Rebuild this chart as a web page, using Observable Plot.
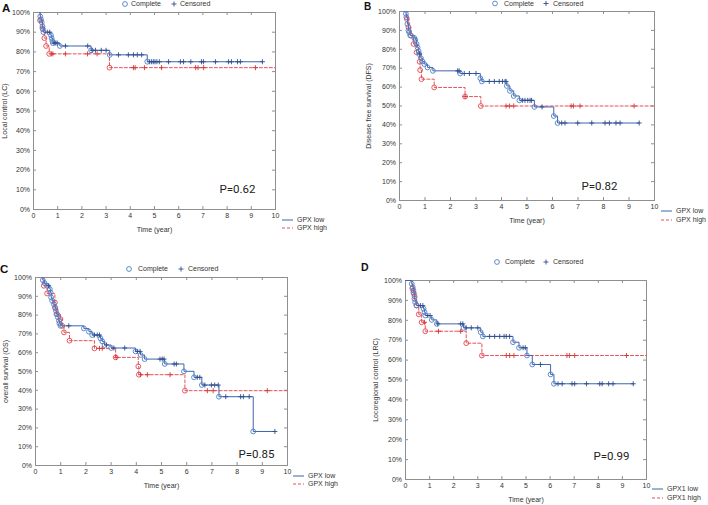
<!DOCTYPE html>
<html><head><meta charset="utf-8">
<script src="https://cdn.jsdelivr.net/npm/d3@7"></script>
<script src="https://cdn.jsdelivr.net/npm/@observablehq/plot@0.6"></script>
<style>
html,body{margin:0;padding:0;background:#fff}
#root{position:relative;width:708px;height:505px;overflow:hidden;background:#fff}
#root > svg{position:absolute}
</style></head><body><div id="root"></div>
<script>
// ---------- DATA ----------
const xTicks = [0,1,2,3,4,5,6,7,8,9,10];
const yTicks = [0,10,20,30,40,50,60,70,80,90,100];
const panelLetters = ["A","B","C","D"];
const yTitles = ["Local control (LC)","Disease free survival (DFS)","overall survival (OS)","Locoregional control (LRC)"];
const pValues = ["P=0.62","P=0.82","P=0.85","P=0.99"];
const groupNames = [["GPX low","GPX high"],["GPX low","GPX high"],["GPX low","GPX high"],["GPX1 low","GPX1 high"]];
const markerNames = ["Complete","Censored"];
const xTitle = "Time (year)";

// Panel A - LC
const lcLowStart = 0.25;
const lcLowEvents = [[0.28,98],[0.31,96.5],[0.34,95],[0.37,93],[0.39,91.5],[0.41,90],[0.72,88.5],[0.75,87],[0.78,85.5],[0.8,84.5],[1.09,83],[2.38,80.8],[3.15,78.5],[4.7,75]];
const lcLowCensored = [0.57,0.67,0.85,0.92,0.98,1.32,2.24,2.42,2.56,2.8,3.0,3.51,3.92,4.13,4.29,4.47,4.8,4.88,4.95,5.02,5.1,5.2,5.58,6.07,6.2,6.5,6.94,7.02,7.52,8.06,8.18,8.43,8.55,9.46];
const lcHighStart = 0.25;
const lcHighEvents = [[0.27,96],[0.37,92],[0.45,87],[0.52,83],[0.65,79],[3.14,72]];
const lcHighCensored = [0.75,0.8,1.32,2.23,2.63,4.13,4.2,4.59,5.29,6.7,6.8,7.03,9.17];

// Panel B - DFS
const dfsLowStart = 0.2;
const dfsLowEvents = [[0.25,98.8],[0.27,97],[0.31,93.4],[0.35,90],[0.38,89],[0.42,87.4],[0.58,86],[0.62,85],[0.67,82.8],[0.71,81],[0.75,79],[0.77,77.5],[0.84,75.3],[0.9,73.6],[0.97,72.2],[1.1,70.4],[1.31,68.6],[2.38,67.2],[3.17,64.7],[3.23,63],[4.21,60.6],[4.33,58],[4.48,55.3],[4.7,53],[5.29,49.5],[6.05,44.7],[6.2,41]];
const dfsLowCensored = [0.79,2.28,2.34,2.54,2.74,3.0,3.52,3.72,3.91,4.04,4.14,4.18,4.83,4.92,5.03,5.12,5.18,5.59,6.36,6.49,6.99,7.54,8.06,8.23,8.49,8.65,9.4];
const dfsHighStart = 0.2;
const dfsHighEvents = [[0.29,96],[0.35,91.7],[0.45,87.2],[0.55,82.8],[0.67,78.4],[0.79,73.4],[0.81,69],[0.86,64.2],[1.36,59.8],[2.57,55],[3.19,50]];
const dfsHighCensored = [2.57,4.18,4.31,4.48,6.73,6.82,7.08,9.2];

// Panel C - OS
const osLowStart = 0.27;
const osLowEvents = [[0.29,98.6],[0.36,97],[0.46,95.6],[0.57,93.8],[0.6,92],[0.62,89.4],[0.66,87.6],[0.73,85.8],[0.77,84],[0.81,82.3],[0.83,80.5],[0.89,78.8],[0.93,77],[0.95,75.6],[0.99,74.3],[1.92,72.9],[2.12,71.2],[2.25,69.4],[2.58,67.6],[2.65,66],[2.74,64.1],[3.0,62.5],[3.97,60.7],[4.17,58.8],[4.33,56.6],[5.13,54],[5.89,50.1],[6.29,46.9],[6.6,42.8],[7.28,36.6],[8.64,18.1]];
const osLowCensored = [0.52,1.32,2.34,2.45,2.54,2.82,3.11,3.54,4.04,4.15,4.94,5.03,5.1,5.5,5.59,6.42,6.52,6.72,6.98,7.11,7.25,7.55,8.14,8.25,8.48,9.5];
const osHighStart = 0.27;
const osHighEvents = [[0.33,95.6],[0.46,91.5],[0.77,86.7],[0.79,83.7],[0.86,80.5],[0.99,77.9],[1.06,74.3],[1.13,70.8],[1.35,66.4],[2.34,62.3],[3.18,57.5],[4.08,52.7],[4.1,48.3],[5.93,39.8]];
const osHighCensored = [2.54,2.65,3.2,4.17,4.44,5.34,6.82,7.05,9.2];

// Panel D - LRC
const lrcLowStart = 0;
const lrcLowEvents = [[0.26,98.3],[0.3,96.6],[0.33,95],[0.35,93.3],[0.37,90.8],[0.4,89.1],[0.47,87.4],[0.75,85.8],[0.79,84.1],[0.82,82.4],[1.09,80.2],[1.3,78.2],[2.41,76.2],[3.12,74],[3.21,71.9],[4.46,69],[4.71,66.2],[5.04,62.3],[5.26,57.8],[6.02,52.8],[6.16,48.1]];
const lrcLowCensored = [0.62,0.72,0.93,1.02,1.34,2.29,2.38,2.52,2.73,3.0,3.49,3.7,3.91,4.09,4.18,4.32,4.88,4.97,5.6,6.33,6.5,6.91,7.02,7.51,8.06,8.16,8.43,8.61,9.45];
const lrcHighStart = 0;
const lrcHighEvents = [[0.28,96],[0.33,94],[0.38,92],[0.45,87.5],[0.55,83],[0.67,79],[0.82,74.5],[2.52,68.5],[3.17,62.3]];
const lrcHighCensored = [0.79,1.37,2.29,4.18,4.32,4.5,6.7,6.8,7.02,9.17];

// ---------- STYLE / LAYOUT ----------
const BLUE="#3d65ae", BLUE_DOT="#4f7ec6", BLUE_PLUS="#2c4d8c";
const RED="#e8515a", RED_DOT="#e0474f", RED_PLUS="#d43838";
const FRAME="#8f8f8f", INK="#333";
const FONT="'Liberation Sans', Arial, sans-serif";
const root = document.getElementById("root");

function levelAt(events, t){ let s=100; for (const [et,es] of events) if (et<=t) s=es; return s; }
function km(start, events, censored, end){
  const ev = events.map(([t,s])=>({t,s}));
  const ce = censored.map(t=>({t, s: levelAt(events,t)}));
  const pts = [{t:start,s:100}, ...ev, ...ce].sort((a,b)=>a.t-b.t || b.s-a.s);
  if (end!=null) pts.push({t:end, s:pts[pts.length-1].s});
  return {pts, ev, ce};
}

const layouts = [
  {left:0, top:0, width:354, height:250, mt:12, mr:79, mb:41, ml:33, yOff:28.5, xDy:20, pdx:-20, pdy:-17},
  {left:354, top:0, width:354, height:250, mt:11, mr:54, mb:50, ml:45, yOff:31, xDy:20, pdx:-37, pdy:-11},
  {left:0, top:250, width:354, height:255, mt:27, mr:67, mb:40, ml:35, yOff:29.5, xDy:20, pdx:-13, pdy:-8},
  {left:354, top:250, width:354, height:255, mt:30, mr:62, mb:26, ml:51, yOff:29.3, xDy:20, pdx:-17, pdy:-20}
];
const groups = [
  [km(lcLowStart,lcLowEvents,lcLowCensored,null), km(lcHighStart,lcHighEvents,lcHighCensored,10)],
  [km(dfsLowStart,dfsLowEvents,dfsLowCensored,null), km(dfsHighStart,dfsHighEvents,dfsHighCensored,10)],
  [km(osLowStart,osLowEvents,osLowCensored,null), km(osHighStart,osHighEvents,osHighCensored,10)],
  [km(lrcLowStart,lrcLowEvents,lrcLowCensored,null), km(lrcHighStart,lrcHighEvents,lrcHighCensored,10)]
];

layouts.forEach((L,i)=>{
  const [lo,hi] = groups[i];
  const pw = L.width-L.ml-L.mr, ph = L.height-L.mt-L.mb;
  const svg = Plot.plot({
    width:L.width, height:L.height,
    marginTop:L.mt, marginRight:L.mr, marginBottom:L.mb, marginLeft:L.ml,
    x:{domain:[0,10]}, y:{domain:[0,100]},
    style:{fontFamily:FONT, fontSize:"7px", color:INK, background:"transparent", overflow:"visible"},
    marks:[
      Plot.tickX(xTicks,{x:d=>d, insetBottom:ph-3, stroke:FRAME}),
      Plot.tickX(xTicks,{x:d=>d, insetTop:ph-3, stroke:FRAME}),
      Plot.tickY(yTicks,{y:d=>d, insetRight:pw-3, stroke:FRAME}),
      Plot.tickY(yTicks,{y:d=>d, insetLeft:pw-3, stroke:FRAME}),
      Plot.frame({stroke:FRAME}),
      Plot.axisX({ticks:xTicks, tickSize:0, tickPadding:3.5, label:null}),
      Plot.axisY({ticks:yTicks, tickSize:0, tickPadding:3.5, tickFormat:d=>d+"%", label:null}),
      Plot.text([xTitle],{text:d=>d, frameAnchor:"bottom", dy:L.xDy, textAnchor:"middle", lineAnchor:"middle", fill:INK}),
      Plot.text([yTitles[i]],{text:d=>d, frameAnchor:"left", dx:-L.yOff, rotate:-90, textAnchor:"middle", lineAnchor:"middle", fill:INK}),
      Plot.line(hi.pts,{x:"t", y:"s", curve:"step-after", stroke:RED, strokeWidth:1, strokeDasharray:"3,2"}),
      Plot.line(lo.pts,{x:"t", y:"s", curve:"step-after", stroke:BLUE, strokeWidth:1}),
      Plot.dot(hi.ev,{x:"t", y:"s", r:2.4, stroke:RED_DOT, strokeWidth:0.9, fill:"none"}),
      Plot.dot(lo.ev,{x:"t", y:"s", r:2.4, stroke:BLUE_DOT, strokeWidth:0.9, fill:"none"}),
      Plot.dot(hi.ce,{x:"t", y:"s", symbol:"plus", r:1.75, stroke:RED_PLUS, strokeWidth:0.9}),
      Plot.dot(lo.ce,{x:"t", y:"s", symbol:"plus", r:1.75, stroke:BLUE_PLUS, strokeWidth:0.9}),
      Plot.text([pValues[i]],{text:d=>d, frameAnchor:"bottom-right", dx:L.pdx, dy:L.pdy, fontSize:11.5, fontWeight:"normal", fontFamily:"Roboto, 'Open Sans', sans-serif", fill:"#222"})
    ]
  });
  svg.style.position="absolute"; svg.style.left=L.left+"px"; svg.style.top=L.top+"px";
  root.appendChild(svg);
});

// ---------- Overlay: panel letters and legends ----------
const topLegends = [
  {cx:125, y:4, t1:131, px:174, t2:180},
  {cx:495, y:3.5, t1:504, px:546, t2:553},
  {cx:129, y:269, t1:138, px:181, t2:188},
  {cx:497, y:262, t1:505, px:546, t2:553}
];
const groupLegends = [
  {x:282, y1:220, y2:228, len:11, gap:4},
  {x:661, y1:211, y2:220, len:11, gap:4},
  {x:293, y1:476, y2:484, len:11, gap:4},
  {x:652, y1:489, y2:498, len:11, gap:4}
];
const letterPos = [{x:2,y:11.7,s:11.5},{x:364,y:10,s:10},{x:0,y:273,s:11.5},{x:361,y:270.7,s:10.5}];

const ov = d3.select(root).append("svg").attr("width",708).attr("height",505)
  .style("position","absolute").style("left","0px").style("top","0px")
  .style("font-family",FONT).style("pointer-events","none");

letterPos.forEach((p,i)=>{
  ov.append("text").attr("x",p.x).attr("y",p.y).attr("font-size",p.s).attr("font-weight","bold").attr("fill","#111").text(panelLetters[i]);
});
const plusPath = r => `M${-r},0H${r}M0,${-r}V${r}`;
topLegends.forEach(g=>{
  ov.append("circle").attr("cx",g.cx).attr("cy",g.y).attr("r",2.4).attr("fill","none").attr("stroke",BLUE_DOT).attr("stroke-width",0.9);
  ov.append("text").attr("x",g.t1).attr("y",g.y).attr("dy","0.35em").attr("font-size",7).attr("fill",INK).text(markerNames[0]);
  ov.append("path").attr("transform",`translate(${g.px},${g.y})`).attr("d",plusPath(2.5)).attr("stroke",BLUE_PLUS).attr("stroke-width",0.9);
  ov.append("text").attr("x",g.t2).attr("y",g.y).attr("dy","0.35em").attr("font-size",7).attr("fill",INK).text(markerNames[1]);
});
groupLegends.forEach((g,i)=>{
  ov.append("line").attr("x1",g.x).attr("x2",g.x+g.len).attr("y1",g.y1).attr("y2",g.y1).attr("stroke",BLUE).attr("stroke-width",1);
  ov.append("line").attr("x1",g.x).attr("x2",g.x+g.len).attr("y1",g.y2).attr("y2",g.y2).attr("stroke",RED).attr("stroke-width",1).attr("stroke-dasharray","3,2");
  ov.append("text").attr("x",g.x+g.len+g.gap).attr("y",g.y1).attr("dy","0.35em").attr("font-size",7).attr("fill",INK).text(groupNames[i][0]);
  ov.append("text").attr("x",g.x+g.len+g.gap).attr("y",g.y2).attr("dy","0.35em").attr("font-size",7).attr("fill",INK).text(groupNames[i][1]);
});
</script></body></html>
